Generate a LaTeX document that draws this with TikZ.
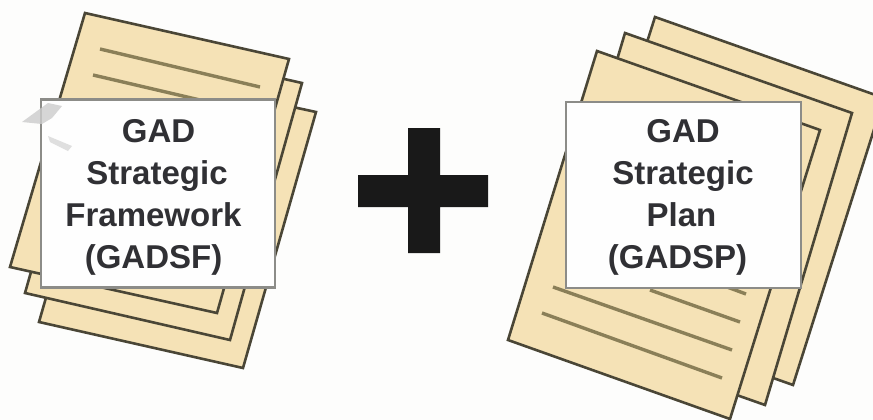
\documentclass[tikz,border=0pt]{standalone}
\usepackage{fontspec}
\setmainfont{Liberation Sans}
\definecolor{paper}{HTML}{F5E2B6}
\definecolor{edge}{HTML}{4A4636}
\definecolor{rule}{HTML}{8A7F58}
\definecolor{cardedge}{HTML}{8C8C88}
\definecolor{backdrop}{HTML}{FDFDFC}
\definecolor{ink}{HTML}{303034}
\tikzset{
    sheet/.style={draw=edge, fill=paper, line width=2.6pt},
    textline/.style={draw=rule, line width=3.4pt},
    card/.style={rectangle, draw=cardedge, fill=white!60!backdrop, line width=2.6pt},
    cardtext/.style={align=center, text=ink, inner sep=0pt,
        font=\fontsize{33}{42.2}\selectfont\bfseries},
}
\begin{document}
\begin{tikzpicture}[x=1pt, y=-1pt]
    \useasboundingbox (0,0) rectangle (873,420);
    \fill[backdrop] (0,0) rectangle (873,420);

    % left stack
    \draw[sheet] (112,68) -- (316,112) -- (243,368) -- (39,322) -- cycle;
    \draw[sheet] (98,37) -- (302,83) -- (230,340) -- (25,293) -- cycle;
    \draw[sheet] (85,13) -- (289,59) -- (217,313) -- (10,267) -- cycle;
    \draw[textline] (100,49) -- (260,87);
    \draw[textline] (93,75) -- (200,100);
    \node[card, minimum width=234pt, minimum height=188pt] (framework) at (158,193.5) {};
    \fill[gray!40, opacity=.8] (22,122) -- (48,103) -- (62,106) -- (52,118) -- (42,124) -- cycle;
    \fill[gray!25] (48,136) -- (72,146) -- (68,151) -- (50,142) -- cycle;
    \node[cardtext] (frameworktext) at ([xshift=-4.5pt,yshift=-4pt]framework.center)
        {\hspace*{10pt}GAD\\ \hspace*{7pt}Strategic\\ Framework\\ (GADSF)};

    % plus sign
    \fill[black!90] (408,128) -- (440,128) -- (440,175) -- (488,175) -- (488,207) -- (440,207)
        -- (440,253) -- (408,253) -- (408,207) -- (358,207) -- (358,175) -- (408,175) -- cycle;

    % right stack
    \draw[sheet] (655,17) -- (884,98) -- (793,385) -- (564,304) -- cycle;
    \draw[sheet] (625,33) -- (852,113) -- (765,405) -- (538,325) -- cycle;
    \draw[sheet] (597,51) -- (820,130) -- (730,419) -- (508,340) -- cycle;
    \draw[textline] (542,313) -- (722,378);
    \draw[textline] (553,287) -- (732,350);
    \draw[textline] (650,290) -- (740,322);
    \draw[textline] (700,277) -- (746,294);
    \node[card, minimum width=235pt, minimum height=186pt] (plan) at (683.5,195) {};
    \node[cardtext] (plantext) at ([xshift=-2pt,yshift=-2.5pt]plan.center)
        {\hspace*{3pt}GAD\\ \hspace*{3pt}Strategic\\ Plan\\ \hspace*{-8pt}(GADSP)};
\end{tikzpicture}
\end{document}
